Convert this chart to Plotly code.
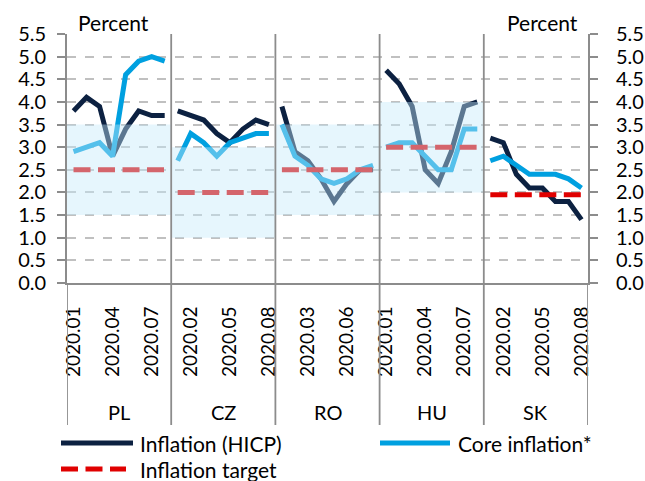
import plotly.graph_objects as go

countries = ["PL", "CZ", "RO", "HU", "SK"]
months = ["2020.01", "2020.02", "2020.03", "2020.04", "2020.05", "2020.06", "2020.07", "2020.08"]

hicp_pl = [3.8, 4.1, 3.9, 2.8, 3.4, 3.8, 3.7, 3.7]
hicp_cz = [3.8, 3.7, 3.6, 3.3, 3.1, 3.4, 3.6, 3.5]
hicp_ro = [3.9, 2.9, 2.7, 2.3, 1.8, 2.2, 2.5, 2.5]
hicp_hu = [4.7, 4.4, 3.9, 2.5, 2.2, 2.9, 3.9, 4.0]
hicp_sk = [3.2, 3.1, 2.4, 2.1, 2.1, 1.8, 1.8, 1.4]

core_pl = [2.9, 3.0, 3.1, 2.8, 4.6, 4.9, 5.0, 4.9]
core_cz = [2.7, 3.3, 3.1, 2.8, 3.1, 3.2, 3.3, 3.3]
core_ro = [3.5, 2.8, 2.6, 2.3, 2.2, 2.3, 2.5, 2.6]
core_hu = [3.0, 3.1, 3.1, 2.8, 2.5, 2.5, 3.4, 3.4]
core_sk = [2.7, 2.8, 2.6, 2.4, 2.4, 2.4, 2.3, 2.1]

target = [2.5, 2.0, 2.5, 3.0, 1.95]
band_low = [1.5, 1.0, 1.5, 2.0, None]
band_high = [3.5, 3.0, 3.5, 4.0, None]

y_ticks = [0.0, 0.5, 1.0, 1.5, 2.0, 2.5, 3.0, 3.5, 4.0, 4.5, 5.0, 5.5]

hicp = [hicp_pl, hicp_cz, hicp_ro, hicp_hu, hicp_sk]
core = [core_pl, core_cz, core_ro, core_hu, core_sk]

# ---- layout geometry (pixels) ----
W, H = 645, 481
L, R, T, B = 67, 588, 34, 283
FONT = "Lato"
GREY = "#8c8c8c"
NAVY = "#0c2141"
BLUE = "#00a0e0"
RED = "#e00000"

n = len(months)


def px_x(p):
    return (p - L) / (R - L)


def px_y(p):
    return (B - p) / (B - T)


def build(series_list):
    xs, ys = [], []
    for ci, vals in enumerate(series_list):
        for mi, v in enumerate(vals):
            xs.append(ci * n + mi)
            ys.append(v)
        xs.append(None)
        ys.append(None)
    return xs, ys


fig = go.Figure()

hx, hy = build(hicp)
fig.add_trace(go.Scatter(x=hx, y=hy, mode="lines", line=dict(color=NAVY, width=5),
                         name="Inflation (HICP)", showlegend=False))
cx, cy = build(core)
fig.add_trace(go.Scatter(x=cx, y=cy, mode="lines", line=dict(color=BLUE, width=5),
                         name="Core inflation*", showlegend=False))
tx, ty = build([[t] * n for t in target])
fig.add_trace(go.Scatter(x=tx, y=ty, mode="lines", line=dict(color=RED, width=5, dash="17px,7.5px"),
                         name="Inflation target", showlegend=False))
# invisible trace for right axis
fig.add_trace(go.Scatter(x=[0], y=[0], yaxis="y2", mode="markers",
                         marker=dict(opacity=0), showlegend=False, hoverinfo="skip"))

shapes = []
# bands (drawn above the lines, translucent)
for ci in range(len(countries)):
    if band_low[ci] is None:
        continue
    shapes.append(dict(type="rect", xref="x", yref="y", x0=ci * n - 0.5, x1=ci * n + n - 0.5,
                       y0=band_low[ci], y1=band_high[ci], fillcolor="rgba(196,233,250,0.43)",
                       line=dict(width=0), layer="above"))
# panel separators
sep_bottom = px_y(425)
for ci in range(1, len(countries)):
    xv = ci * n - 0.5
    shapes.append(dict(type="line", xref="x", yref="paper", x0=xv, x1=xv, y0=sep_bottom, y1=1,
                       line=dict(color=GREY, width=1.8), layer="above"))
for xv in [-0.5, len(countries) * n - 0.5]:
    shapes.append(dict(type="line", xref="x", yref="paper", x0=xv, x1=xv, y0=sep_bottom, y1=0,
                       line=dict(color=GREY, width=1.8), layer="above"))

# custom legend
leg = [
    ("Inflation (HICP)", NAVY, "solid", 61, 133, 443, 138),
    ("Core inflation*", BLUE, "solid", 380, 450, 443, 456),
    ("Inflation target", RED, "17px,7.5px", 61, 126, 469, 138),
]
annotations = []
for text, col, dash, x0, x1, yy, xt in leg:
    shapes.append(dict(type="line", xref="paper", yref="paper", x0=px_x(x0), x1=px_x(x1),
                       y0=px_y(yy), y1=px_y(yy), line=dict(color=col, width=5, dash=dash)))
    annotations.append(dict(text=text, xref="paper", yref="paper", x=px_x(xt), y=px_y(yy),
                            xanchor="left", yanchor="middle", showarrow=False,
                            font=dict(family=FONT, size=21, color="#000000")))

for ci, c in enumerate(countries):
    annotations.append(dict(text=c, xref="x", yref="paper", x=ci * n + (n - 1) / 2, y=px_y(412),
                            xanchor="center", yanchor="middle", showarrow=False,
                            font=dict(family=FONT, size=20, color="#000000")))

annotations.append(dict(text="Percent", xref="paper", yref="paper", x=px_x(76), y=px_y(23),
                        xanchor="left", yanchor="middle", showarrow=False,
                        font=dict(family=FONT, size=21, color="#000000")))
annotations.append(dict(text="Percent", xref="paper", yref="paper", x=px_x(580), y=px_y(23),
                        xanchor="right", yanchor="middle", showarrow=False,
                        font=dict(family=FONT, size=21, color="#000000")))

all_x = list(range(len(countries) * n))
tickvals = all_x[::3]
ticktext = [months[i % n] for i in tickvals]

yax_common = dict(range=[0, 5.5], tickvals=y_ticks, ticktext=[f"{v:.1f}" for v in y_ticks],
                  ticks="outside", ticklen=8, tickcolor=GREY, tickwidth=1.5,
                  showline=True, linecolor=GREY, linewidth=1.8, zeroline=False,
                  tickfont=dict(family=FONT, size=20, color="#000000"),
                  fixedrange=True, automargin=False)

fig.update_layout(
    width=W, height=H,
    margin=dict(l=L, r=W - R, t=T, b=H - B, autoexpand=False),
    paper_bgcolor="white", plot_bgcolor="white",
    showlegend=False,
    xaxis=dict(range=[-0.5, len(countries) * n - 0.5], tickvals=tickvals, ticktext=ticktext,
               tickangle=-90, showgrid=False, zeroline=False, showline=True, linecolor=GREY,
               linewidth=1.8, ticks="", tickfont=dict(family=FONT, size=19, color="#000000"),
               ticklabelstandoff=14, fixedrange=True, automargin=False),
    yaxis=dict(**yax_common, side="left", showgrid=True, gridcolor="#c0c0c0", gridwidth=1.8,
               griddash="dash", ticklabelstandoff=7),
    yaxis2=dict(**yax_common, side="right", overlaying="y", showgrid=False, ticklabelstandoff=14),
    shapes=shapes,
    annotations=annotations,
    font=dict(family=FONT, size=20, color="#000000"),
)

fig.write_html("out.html", config={"displayModeBar": False},
               post_script="document.body.style.margin='0';document.body.style.overflow='hidden';")
